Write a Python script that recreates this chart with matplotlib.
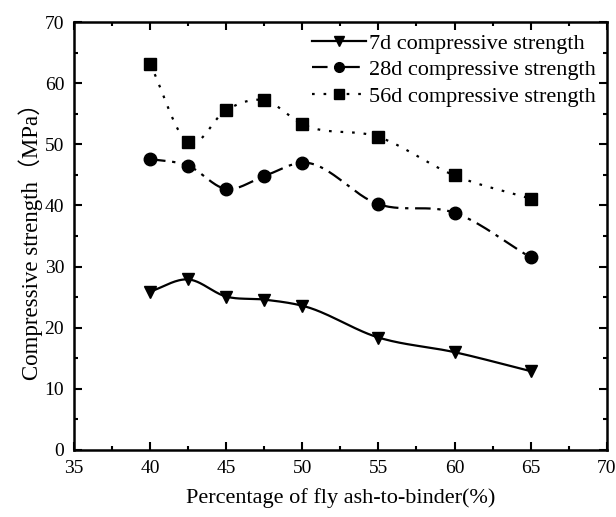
import numpy as np
from matplotlib import pyplot as plt
from matplotlib.ticker import MultipleLocator

# fly ash content (%) and compressive strength (MPa) at each age
fly_ash = [40, 42.5, 45, 47.5, 50, 55, 60, 65]
strength_7d = [25.9, 27.9, 25.1, 24.6, 23.6, 18.4, 16.0, 12.9]
strength_28d = [47.6, 46.5, 42.7, 44.8, 47.0, 40.2, 38.8, 31.5]
strength_56d = [63.2, 50.3, 55.6, 57.2, 53.3, 51.2, 44.9, 41.1]

labels = ['7d compressive strength', '28d compressive strength', '56d compressive strength']

plt.rcParams['font.family'] = ['Liberation Serif', 'Noto Sans CJK SC']


def smooth(x, y, n=30):
    # cubic Hermite curve through the points (Catmull-Rom slopes)
    x = np.asarray(x, float)
    y = np.asarray(y, float)
    m = np.gradient(y, x)
    xs, ys = [], []
    for i in range(len(x) - 1):
        h = x[i + 1] - x[i]
        t = np.linspace(0, 1, n)
        h00 = 2 * t**3 - 3 * t**2 + 1
        h10 = t**3 - 2 * t**2 + t
        h01 = -2 * t**3 + 3 * t**2
        h11 = t**3 - t**2
        xs.extend(x[i] + t * h)
        ys.extend(h00 * y[i] + h10 * h * m[i] + h01 * y[i + 1] + h11 * h * m[i + 1])
    return np.array(xs), np.array(ys)


fig = plt.figure(figsize=(6.16, 5.17), dpi=100)
ax = fig.add_axes([0.120, 0.1296, 0.865, 0.8278])

series = [
    (strength_7d, 'v', '-'),
    (strength_28d, 'o', (0, (7, 3, 1.5, 3))),
    (strength_56d, 's', (0, (1.2, 4))),
]
for (vals, mk, ls), lab in zip(series, labels):
    sx, sy = smooth(fly_ash, vals)
    ax.plot(sx, sy, color='black', lw=1.6, ls=ls)
    ax.plot(fly_ash, vals, ls='none', marker=mk, ms=9, color='black')
    # legend proxy
    ax.plot([], [], color='black', lw=1.6, ls=ls, marker=mk, ms=7, label=lab)

ax.set_xlim(35, 70)
ax.set_ylim(0, 70)
ax.xaxis.set_major_locator(MultipleLocator(5))
ax.xaxis.set_minor_locator(MultipleLocator(2.5))
ax.yaxis.set_major_locator(MultipleLocator(10))
ax.yaxis.set_minor_locator(MultipleLocator(5))
ax.tick_params(which='both', direction='in', top=True, right=True, width=1.5,
               labelsize=14, pad=7)
ax.tick_params(which='major', length=6)
ax.tick_params(which='minor', length=3)
for sp in ax.spines.values():
    sp.set_linewidth(1.8)

ax.set_xlabel('Percentage of fly ash-to-binder(%)', fontsize=16, labelpad=8)
ax.set_ylabel('Compressive strength（MPa）', fontsize=16.5, labelpad=1)

ax.legend(loc='upper right', frameon=False, fontsize=16, handlelength=2.4,
          handletextpad=0.15, labelspacing=0.27, borderaxespad=0.1,
          bbox_to_anchor=(1.0, 1.0))

plt.savefig('out.png', dpi=100)
